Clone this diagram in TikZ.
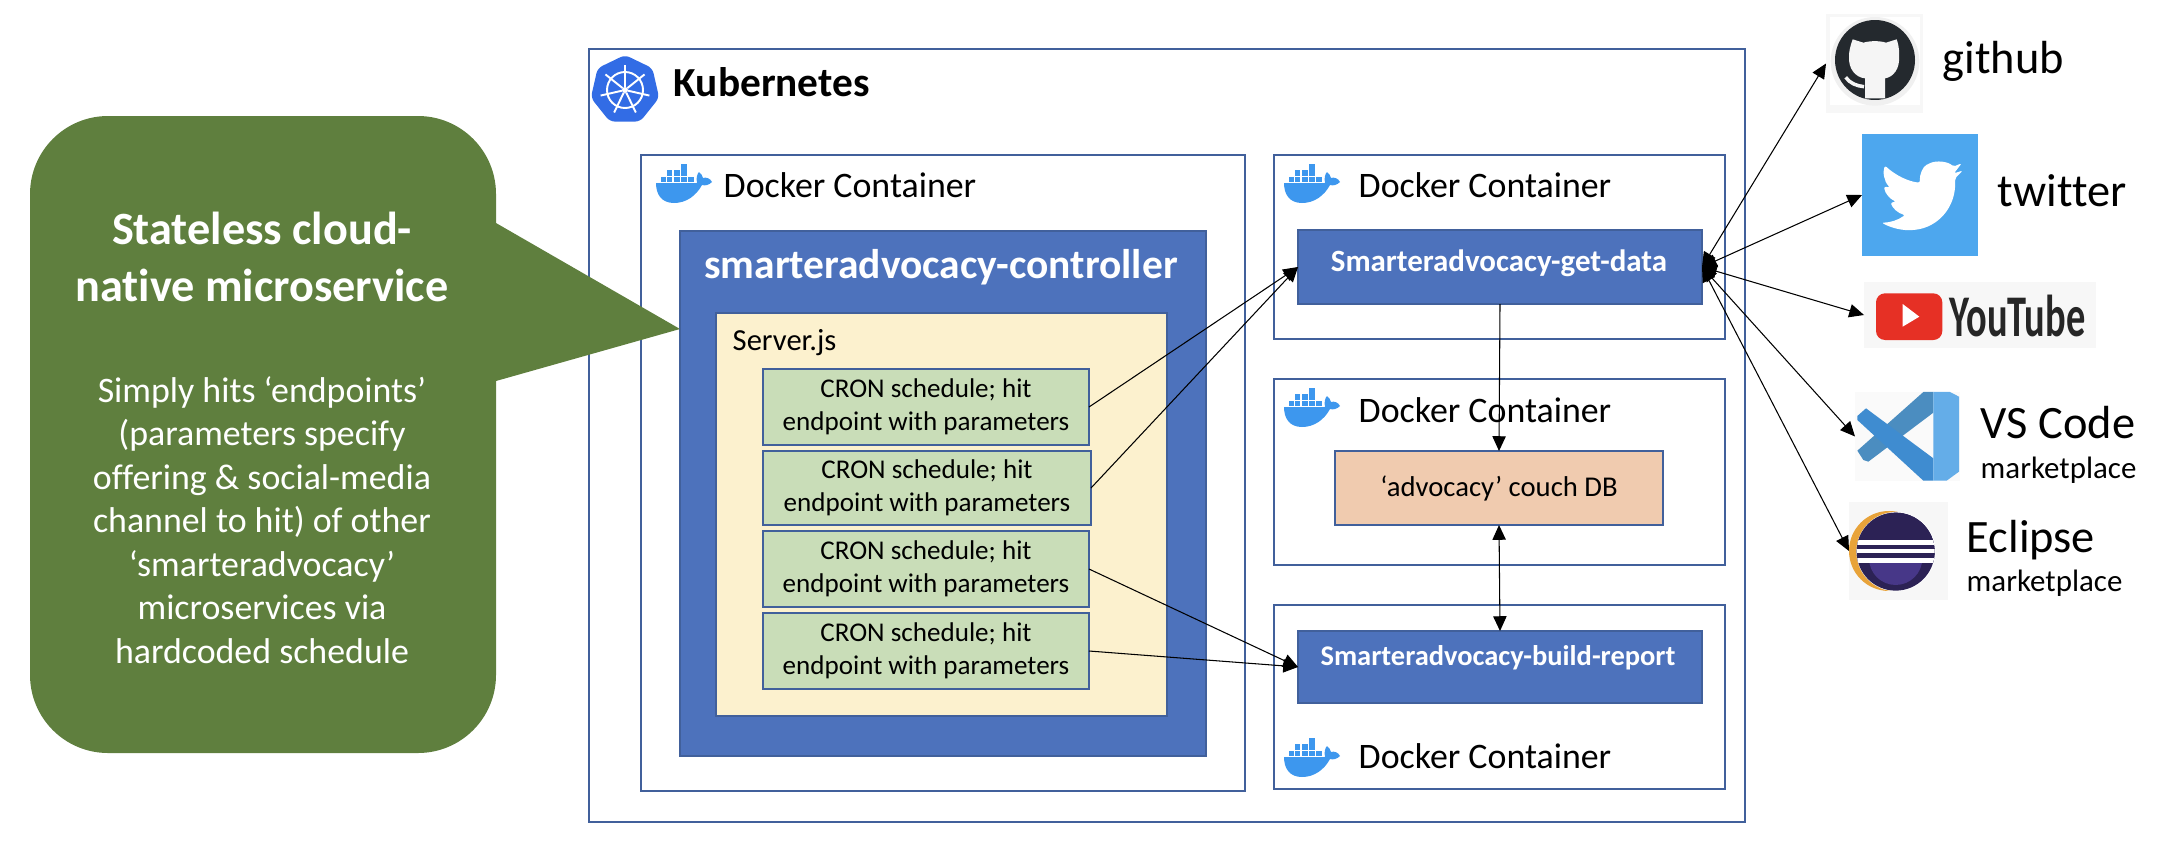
\documentclass[tikz,border=0pt]{standalone}
\usepackage{fontspec}
\setmainfont{Carlito}[Ligatures=NoCommon]
\usetikzlibrary{arrows.meta,shapes.geometric}
\definecolor{framecol}{HTML}{41609B}
\definecolor{ctrlblue}{HTML}{4D72BC}
\definecolor{serveryellow}{HTML}{FCF1CE}
\definecolor{crongreen}{HTML}{C9DDB8}
\definecolor{couchorange}{HTML}{F0CBAF}
\definecolor{calloutgreen}{HTML}{5F7F3E}
\definecolor{whaleblue}{HTML}{3D97EE}
\definecolor{kubeblue}{HTML}{326CE5}
\definecolor{twitterblue}{HTML}{4DA7EE}
\definecolor{githubdark}{HTML}{24292E}
\definecolor{youtubered}{HTML}{E63025}
\definecolor{vsdark}{HTML}{4B8DC0}
\definecolor{vsmid}{HTML}{3F8CD0}
\definecolor{vslight}{HTML}{64ADE8}
\definecolor{eclipsenavy}{HTML}{2C2255}
\definecolor{eclipsepurple}{HTML}{473788}
\definecolor{eclipsegold}{HTML}{E8A33A}
\tikzset{
  >={Triangle[length=4.2pt,width=3.8pt]},
  boxsize/.style 2 args={minimum width=#1*0.01cm, minimum height=#2*0.01cm},
  frame/.style={draw=framecol, line width=0.8pt, inner sep=0pt, outer sep=0pt, anchor=north west},
  ctrlbox/.style={frame, fill=ctrlblue},
  cronbox/.style={frame, fill=crongreen, text=black, align=center, font=\fontsize{7.7}{9.4}\selectfont},
  icon/.style={inner sep=0pt, outer sep=0pt, anchor=north west},
  link/.style={line width=0.3pt},
  dockerlabel/.style={anchor=base west, inner sep=0pt, font=\fontsize{10.2}{12}\selectfont},
  bigname/.style={anchor=base west, inner sep=0pt, font=\fontsize{13.2}{15}\selectfont},
  smallname/.style={anchor=base west, inner sep=0pt, font=\fontsize{8.8}{10}\selectfont},
  whale/.pic={
    \fill [whaleblue] (25, 0) rectangle (31, 5.5);
    \fill [whaleblue] (11, 6) rectangle (16, 11.5);
    \fill [whaleblue] (18, 6) rectangle (23.5, 11.5);
    \fill [whaleblue] (25, 6) rectangle (31, 11.5);
    \fill [whaleblue] (5, 12.5) rectangle (10, 18);
    \fill [whaleblue] (11, 12.5) rectangle (16, 18);
    \fill [whaleblue] (18, 12.5) rectangle (23.5, 18);
    \fill [whaleblue] (25, 12.5) rectangle (31, 18);
    \fill [whaleblue] (32, 12.5) rectangle (38, 18);
    \fill [whaleblue] (0, 19) -- (41, 19) .. controls (40, 14) and (41, 10) .. (43, 8)
      .. controls (45, 10) and (47, 12) .. (47, 14) .. controls (50, 13) and (54, 14) .. (56, 18)
      .. controls (53, 21) and (49, 22) .. (46, 21) .. controls (40, 32) and (30, 39) .. (18, 39)
      .. controls (6, 39) and (0, 31) .. (0, 19) -- cycle;
  }
}
\begin{document}
\begin{tikzpicture}[x=0.01cm, y=-0.01cm]
  \useasboundingbox (0, 0) rectangle (2164, 848);
  % frames
  \node (kubeframe) at (589, 49) [frame, boxsize={1156}{773}] {};
  \node (dockerleft) at (641, 155) [frame, boxsize={604}{636}] {};
  \node (dockerget) at (1274, 155) [frame, boxsize={451}{184}] {};
  \node (dockercouch) at (1274, 379) [frame, boxsize={451}{186}] {};
  \node (dockerreport) at (1274, 605) [frame, boxsize={451}{184}] {};
  \node (kubeicon) at (625, 90) [regular polygon, regular polygon sides=7, minimum size=0.7cm,
    inner sep=0pt, fill=kubeblue, rounded corners=0.05cm] {};
  \draw [white, line width=0.55pt] (kubeicon.center) circle [radius=18];
  \begin{scope}[shift={(kubeicon.center)}]
    \foreach \spoke in {-90, -38.57, 12.86, 64.29, 115.71, 167.14, 218.57}
      \draw [white, line width=0.55pt] (\spoke:3) -- (\spoke:25);
  \end{scope}
  \fill [white] (kubeicon.center) circle [radius=3];
  \node (kubelabel) at (673, 96) [anchor=base west, inner sep=0pt, font=\fontsize{11.75}{14}\selectfont\bfseries] {Kubernetes};
  \pic at (656, 164) {whale};
  \pic at (1284, 164) {whale};
  \pic at (1284, 388) {whale};
  \pic at (1284, 738) {whale};
  \node (dockerleftlabel) at (723, 197) [dockerlabel] {Docker Container};
  \node (dockergetlabel) at (1358, 197) [dockerlabel] {Docker Container};
  \node (dockercouchlabel) at (1358, 422) [dockerlabel] {Docker Container};
  \node (dockerreportlabel) at (1358, 768) [dockerlabel] {Docker Container};
  % controller
  \node (controller) at (680, 231) [ctrlbox, boxsize={526}{525}] {};
  \node (controllerlabel) at (941, 267) [text=white, font=\fontsize{11.8}{14}\selectfont\bfseries] {smarteradvocacy-controller};
  \node (server) at (716, 313) [frame, fill=serveryellow, boxsize={451}{403}] {};
  \node (serverlabel) at (732, 350) [anchor=base west, inner sep=0pt, font=\fontsize{8.7}{10}\selectfont] {Server.js};
  \node (cronone) at (763, 369) [cronbox, boxsize={326}{76}] {CRON schedule; hit\\endpoint with parameters};
  \node (crontwo) at (763, 451) [cronbox, boxsize={328}{74}] {CRON schedule; hit\\endpoint with parameters};
  \node (cronthree) at (763, 531) [cronbox, boxsize={326}{76}] {CRON schedule; hit\\endpoint with parameters};
  \node (cronfour) at (763, 613) [cronbox, boxsize={326}{76}] {CRON schedule; hit\\endpoint with parameters};
  % services
  \node (getdata) at (1298, 230) [ctrlbox, boxsize={404}{74}] {};
  \node (getdatalabel) at (1499, 263) [text=white, font=\fontsize{8.8}{10}\selectfont\bfseries] {Smarteradvocacy-get-data};
  \node (couchdb) at (1335, 451) [frame, fill=couchorange, boxsize={328}{74}, font=\fontsize{8.15}{9.4}\selectfont] {‘advocacy’ couch DB};
  \node (buildreport) at (1298, 631) [ctrlbox, boxsize={404}{72}] {};
  \node (buildreportlabel) at (1498, 658) [text=white, font=\fontsize{8.1}{10}\selectfont\bfseries] {Smarteradvocacy-build-report};
  % callout
  \node (calloutbody) at (30, 116) [icon, fill=calloutgreen, rounded corners=0.78cm, boxsize={466}{637}] {};
  \fill [calloutgreen] (480, 223) -- (496, 223) -- (680, 329) -- (496, 381) -- (480, 381) -- cycle;
  \node (callouttitle) at (262, 257) [text=white, align=center, font=\fontsize{13.15}{16.2}\selectfont\bfseries] {Stateless cloud-\\native microservice};
  \node (callouttext) at (262, 520) [text=white, align=center, font=\fontsize{10.2}{12.35}\selectfont] {Simply hits ‘endpoints’\\(parameters specify\\offering \& social-media\\channel to hit) of other\\‘smarteradvocacy’\\microservices via\\hardcoded schedule};
  % github
  \node (githubicon) at (1826, 14) [icon, fill=black!3, boxsize={97}{99}] {};
  \begin{scope}[shift={(1780, 0)}, scale=0.3333]
    \fill [white] (150, 52) rectangle (420, 316);
    \fill [black!6] (285, 184) circle [radius=133];
    \fill [githubdark] (285, 180) circle [radius=120];
    \fill [black!4] (218, 118) -- (250, 128) .. controls (270, 122) and (300, 122) .. (318, 128) -- (350, 118)
      .. controls (358, 140) and (358, 160) .. (357, 170) .. controls (360, 205) and (340, 232) .. (315, 235)
      -- (315, 295) -- (255, 295) -- (255, 235) .. controls (225, 232) and (205, 205) .. (207, 170)
      .. controls (206, 160) and (210, 140) .. (218, 118) -- cycle;
    \draw [black!4, line width=1pt] (197, 232) .. controls (210, 250) and (230, 258) .. (252, 260);
  \end{scope}
  \node (githublabel) at (1942, 73) [bigname] {github};
  % twitter
  \node (twittericon) at (1862, 134) [icon, fill=twitterblue, boxsize={116}{122}] {};
  \begin{scope}[shift={(1780, 0)}, scale=0.3333]
    \fill [white, rounded corners=0.02cm] (545, 490) -- (520, 500) .. controls (505, 485) and (470, 480) .. (445, 492)
      .. controls (428, 500) and (418, 525) .. (420, 548) .. controls (385, 545) and (345, 525) .. (315, 497)
      .. controls (308, 515) and (312, 545) .. (330, 562) -- (312, 560) .. controls (315, 580) and (330, 597) .. (348, 605)
      -- (332, 608) .. controls (338, 625) and (355, 640) .. (375, 645) .. controls (355, 660) and (330, 668) .. (305, 668)
      .. controls (335, 685) and (370, 692) .. (400, 690) .. controls (475, 682) and (530, 620) .. (525, 535)
      -- (548, 512) -- (522, 520) -- cycle;
  \end{scope}
  \node (twitterlabel) at (1997, 206) [bigname] {twitter};
  % youtube
  \node (youtubeicon) at (1864, 282) [icon, fill=black!3, boxsize={232}{66}] {};
  \begin{scope}[shift={(1780, 280)}, scale=0.3333]
    \fill [youtubered, rounded corners=0.09cm] (288, 40) rectangle (487, 180);
    \fill [white] (368, 72) -- (418, 110) -- (368, 140) -- cycle;
  \end{scope}
  \node (youtubelabel) at (1949, 336) [anchor=base west, inner sep=0pt, text=black!85, font=\fontsize{16.8}{20}\selectfont\bfseries] {\scalebox{0.65}[1]{YouTube}};
  % vs code
  \node (vscodeicon) at (1855, 392) [icon, fill=black!2, boxsize={105}{89}] {};
  \begin{scope}[shift={(1780, 280)}, scale=0.3333]
    \fill [vsdark] (232, 512) -- (430, 336) -- (460, 336) -- (460, 398) -- (265, 545) -- (250, 540) -- cycle;
    \fill [vsmid] (232, 408) -- (258, 385) -- (460, 535) -- (460, 602) -- (430, 602) -- (232, 420) -- cycle;
    \fill [vslight] (460, 336) -- (510, 336) -- (537, 350) -- (537, 575) -- (500, 602) -- (460, 602) -- cycle;
  \end{scope}
  \node (vscodelabel) at (1980, 438) [bigname] {VS Code};
  \node (vscodemarket) at (1980, 478) [smallname] {marketplace};
  % eclipse
  \node (eclipseicon) at (1849, 502) [icon, fill=black!3, boxsize={99}{98}] {};
  \begin{scope}[shift={(1780, 280)}, scale=0.3333]
    \fill [eclipsegold] (327, 813) circle [radius=120];
    \fill [white] (348, 815) circle [radius=119];
    \begin{scope}
      \clip (347, 815) circle [radius=117];
      \fill [eclipsenavy] (225, 695) rectangle (470, 935);
      \fill [eclipsepurple] (347, 835) circle [radius=80];
      \fill [eclipsenavy] (225, 695) rectangle (470, 850);
      \fill [white] (225, 780) rectangle (470, 795);
      \fill [white] (225, 808) rectangle (470, 820);
      \fill [white] (225, 833) rectangle (470, 848);
    \end{scope}
  \end{scope}
  \node (eclipselabel) at (1966, 552) [bigname] {Eclipse};
  \node (eclipsemarket) at (1966, 591) [smallname] {marketplace};
  % connectors
  \draw [->, link] (cronone.east) -- (getdata.west);
  \draw [->, link] (crontwo.east) -- (getdata.west);
  \draw [->, link] (cronthree.east) -- (buildreport.west);
  \draw [->, link] (cronfour.east) -- (buildreport.west);
  \draw [->, link] (getdata.south) -- (couchdb.north);
  \draw [<->, link] (couchdb.south) -- (buildreport.north);
  \draw [<->, link] (getdata.east) -- (githubicon.west);
  \draw [<->, link] (getdata.east) -- (twittericon.west);
  \draw [<->, link] (getdata.east) -- (youtubeicon.west);
  \draw [<->, link] (getdata.east) -- (vscodeicon.west);
  \draw [<->, link] (getdata.east) -- (eclipseicon.west);
\end{tikzpicture}
\end{document}
